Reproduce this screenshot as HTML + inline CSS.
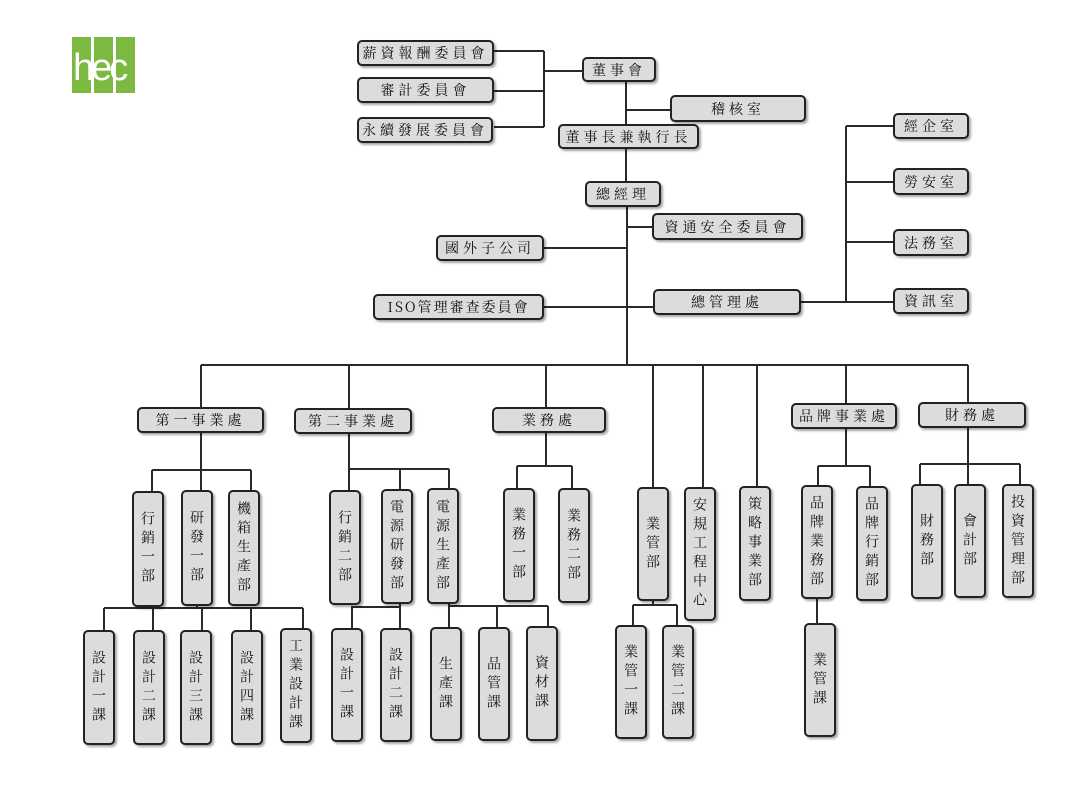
<!DOCTYPE html>
<html><head><meta charset="utf-8">
<style>
html,body{margin:0;padding:0;background:#fff;}
body{width:1081px;height:786px;position:relative;overflow:hidden;}
.b{position:absolute;box-sizing:border-box;background:#dcdcdc;border:2px solid #222;border-radius:5px;box-shadow:2px 2px 2px rgba(0,0,0,.35);
font-family:"Noto Serif CJK SC","Liberation Serif","Noto Sans CJK TC",serif;font-size:14px;color:#111;display:flex;align-items:center;justify-content:center;letter-spacing:4px;}
.v{writing-mode:vertical-rl;letter-spacing:5px;line-height:1;}
svg{position:absolute;left:0;top:0;}
.logo{position:absolute;top:37px;height:56px;background:#7cb940;}
</style></head><body>
<div class="logo" style="left:72px;width:19px"></div>
<div class="logo" style="left:94px;width:19px"></div>
<div class="logo" style="left:116px;width:19px"></div>
<div style="position:absolute;left:73px;top:40px;width:62px;overflow:hidden;font-family:'Liberation Sans',sans-serif;font-size:38px;color:#fff;letter-spacing:-3px;line-height:56px;">hec</div>
<svg width="1081" height="786" stroke="#2a2a2a" stroke-width="2" fill="none">
<path d="M494 51H544M494 91H544M494 127H544M544 51V127M544 71H582"/>
<path d="M626 82V124M626 110H670M626 149V181M627 207V365M627 227H652M544 248H627M544 307H653M801 302H846M846 126V302M846 126H893M846 182H893M846 242H893M846 302H893"/>
<path d="M201 365H968M201 365V407M349 365V408M546 365V407M653 365V487M703 365V487M757 365V486M846 365V403M968 365V402"/>
<path d="M201 433V470M152 470H251M152 470V491M201 470V490M251 470V490M197 606V608M104 608H303M104 608V630M153 608V630M202 608V630M251 608V630M303 608V628"/>
<path d="M349 434V469H449M349 469V490M400 469V489M449 469V488M400 604V607H352V628M400 607V628M449 604V606H548M449 606V627M497 606V627M548 606V626"/>
<path d="M546 433V466M517 466H572M517 466V488M572 466V488"/>
<path d="M653 601V605M633 605H677M633 605V625M677 605V625"/>
<path d="M846 429V466M818 466H870M818 466V485M870 466V486M817 599V623"/>
<path d="M968 428V484M920 464H1020M920 464V484M1020 464V484"/>
</svg>
<div class="b" style="left:357px;top:40px;width:137px;height:26px">薪資報酬委員會</div>
<div class="b" style="left:357px;top:77px;width:137px;height:26px">審計委員會</div>
<div class="b" style="left:357px;top:117px;width:136px;height:26px">永續發展委員會</div>
<div class="b" style="left:582px;top:57px;width:74px;height:25px">董事會</div>
<div class="b" style="left:670px;top:95px;width:136px;height:27px">稽核室</div>
<div class="b" style="left:558px;top:124px;width:141px;height:25px">董事長兼執行長</div>
<div class="b" style="left:585px;top:181px;width:76px;height:26px">總經理</div>
<div class="b" style="left:652px;top:213px;width:151px;height:27px">資通安全委員會</div>
<div class="b" style="left:436px;top:235px;width:108px;height:26px">國外子公司</div>
<div class="b" style="left:373px;top:294px;width:171px;height:26px;letter-spacing:2px">ISO管理審查委員會</div>
<div class="b" style="left:653px;top:289px;width:148px;height:26px">總管理處</div>
<div class="b" style="left:893px;top:113px;width:76px;height:26px">經企室</div>
<div class="b" style="left:893px;top:168px;width:76px;height:27px">勞安室</div>
<div class="b" style="left:893px;top:229px;width:76px;height:27px">法務室</div>
<div class="b" style="left:893px;top:288px;width:76px;height:26px">資訊室</div>

<div class="b" style="left:137px;top:407px;width:127px;height:26px">第一事業處</div>
<div class="b" style="left:294px;top:408px;width:118px;height:26px">第二事業處</div>
<div class="b" style="left:492px;top:407px;width:114px;height:26px">業務處</div>
<div class="b" style="left:791px;top:403px;width:106px;height:26px">品牌事業處</div>
<div class="b" style="left:918px;top:402px;width:108px;height:26px">財務處</div>

<div class="b v" style="left:132px;top:491px;width:32px;height:116px">行銷一部</div>
<div class="b v" style="left:181px;top:490px;width:32px;height:116px">研發一部</div>
<div class="b v" style="left:228px;top:490px;width:32px;height:116px">機箱生產部</div>
<div class="b v" style="left:83px;top:630px;width:32px;height:115px">設計一課</div>
<div class="b v" style="left:133px;top:630px;width:32px;height:115px">設計二課</div>
<div class="b v" style="left:180px;top:630px;width:32px;height:115px">設計三課</div>
<div class="b v" style="left:231px;top:630px;width:32px;height:115px">設計四課</div>
<div class="b v" style="left:280px;top:628px;width:32px;height:115px">工業設計課</div>

<div class="b v" style="left:329px;top:490px;width:32px;height:115px">行銷二部</div>
<div class="b v" style="left:381px;top:489px;width:32px;height:115px">電源研發部</div>
<div class="b v" style="left:427px;top:488px;width:32px;height:116px">電源生產部</div>
<div class="b v" style="left:331px;top:628px;width:32px;height:114px">設計一課</div>
<div class="b v" style="left:380px;top:628px;width:32px;height:114px">設計二課</div>
<div class="b v" style="left:430px;top:627px;width:32px;height:114px">生產課</div>
<div class="b v" style="left:478px;top:627px;width:32px;height:114px">品管課</div>
<div class="b v" style="left:526px;top:626px;width:32px;height:115px">資材課</div>

<div class="b v" style="left:503px;top:488px;width:32px;height:114px">業務一部</div>
<div class="b v" style="left:558px;top:488px;width:32px;height:115px">業務二部</div>

<div class="b v" style="left:637px;top:487px;width:32px;height:114px">業管部</div>
<div class="b v" style="left:615px;top:625px;width:32px;height:114px">業管一課</div>
<div class="b v" style="left:662px;top:625px;width:32px;height:114px">業管二課</div>
<div class="b v" style="left:684px;top:487px;width:32px;height:134px">安規工程中心</div>
<div class="b v" style="left:739px;top:486px;width:32px;height:115px">策略事業部</div>

<div class="b v" style="left:801px;top:485px;width:32px;height:114px">品牌業務部</div>
<div class="b v" style="left:856px;top:486px;width:32px;height:115px">品牌行銷部</div>
<div class="b v" style="left:804px;top:623px;width:32px;height:114px">業管課</div>

<div class="b v" style="left:911px;top:484px;width:32px;height:115px">財務部</div>
<div class="b v" style="left:954px;top:484px;width:32px;height:114px">會計部</div>
<div class="b v" style="left:1002px;top:484px;width:32px;height:114px">投資管理部</div>
</body></html>
